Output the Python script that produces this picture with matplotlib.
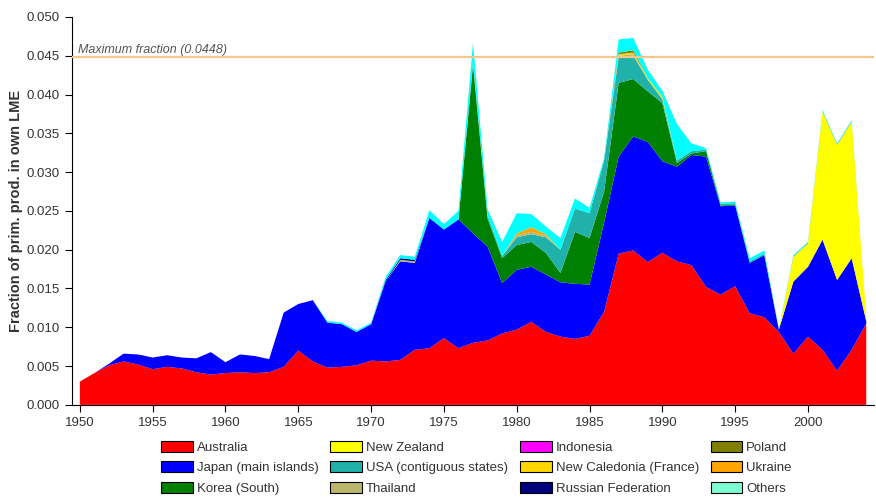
import matplotlib
matplotlib.use("Agg")
import matplotlib.pyplot as plt
from matplotlib.patches import Patch
import numpy as np

plt.rcParams['font.family'] = ['Liberation Sans', 'DejaVu Sans']

years = list(range(1950, 2005))

# fraction of primary production in own LME, per country (stacked bottom to top)
australia = [0.0030, 0.0041, 0.0051, 0.0056, 0.0052, 0.0046, 0.0049, 0.0047, 0.0042, 0.0039,
             0.0041, 0.0042, 0.0041, 0.0042, 0.0049, 0.0070, 0.0056, 0.0048, 0.0049, 0.0051,
             0.0057, 0.0056, 0.0058, 0.0071, 0.0073, 0.0086, 0.0073, 0.0080, 0.0083, 0.0092,
             0.0097, 0.0107, 0.0094, 0.0088, 0.0085, 0.0089, 0.0120, 0.0195, 0.0199, 0.0184,
             0.0196, 0.0185, 0.0180, 0.0152, 0.0142, 0.0153, 0.0118, 0.0113, 0.0094, 0.0066,
             0.0088, 0.0071, 0.0044, 0.0071, 0.0105]
japan = [0.0000, 0.0000, 0.0002, 0.0010, 0.0013, 0.0015, 0.0015, 0.0014, 0.0018, 0.0029,
         0.0014, 0.0023, 0.0022, 0.0017, 0.0070, 0.0060, 0.0079, 0.0058, 0.0055, 0.0043,
         0.0047, 0.0103, 0.0127, 0.0112, 0.0168, 0.0140, 0.0166, 0.0141, 0.0121, 0.0065,
         0.0077, 0.0071, 0.0074, 0.0070, 0.0071, 0.0066, 0.0115, 0.0125, 0.0147, 0.0155,
         0.0118, 0.0122, 0.0142, 0.0168, 0.0114, 0.0104, 0.0065, 0.0080, 0.0003, 0.0093,
         0.0090, 0.0142, 0.0117, 0.0118, 0.0003]
korea = [0.0] * 27 + [0.0217, 0.0036, 0.0032, 0.0032, 0.0032, 0.0028, 0.0012, 0.0067, 0.0060,
                      0.0040, 0.0095, 0.0074, 0.0065, 0.0075, 0.0005, 0.0002, 0.0007, 0.0001,
                      0.0001] + [0.0] * 9
new_zealand = [0.0] * 49 + [0.0032, 0.0030, 0.0165, 0.0174, 0.0176, 0.0006]
usa = [0.0] * 27 + [0.0003, 0.0004, 0.0003, 0.0010, 0.0010, 0.0020, 0.0030, 0.0030, 0.0032,
                    0.0040, 0.0033, 0.0030, 0.0015, 0.0005, 0.0003, 0.0003, 0.0002, 0.0002,
                    0.0002, 0.0002, 0.0002, 0.0000, 0.0001, 0.0001, 0.0001, 0.0001, 0.0001,
                    0.0000]
thailand = [0.0] * 22 + [0.0002, 0.0002] + [0.0] * 6 + [0.0003, 0.0003, 0.0002] + [0.0] * 4 + \
           [0.0002, 0.0002] + [0.0] * 16
indonesia = [0.0] * 55
new_caledonia = [0.0] * 37 + [0.0002, 0.0002, 0.0002, 0.0003] + [0.0] * 14
russia = [0.0] * 21 + [0.0002, 0.0002, 0.0002] + [0.0] * 31
poland = [0.0] * 37 + [0.0002, 0.0003] + [0.0] * 16
ukraine = [0.0] * 30 + [0.0002, 0.0006, 0.0002] + [0.0] * 22
others = [0.0] * 17 + [0.0002, 0.0002, 0.0002, 0.0002, 0.0004, 0.0004, 0.0004, 0.0010, 0.0007,
                       0.0011, 0.0026, 0.0008, 0.0018, 0.0026, 0.0017, 0.0010, 0.0015, 0.0013,
                       0.0007, 0.0003, 0.0017, 0.0016, 0.0011, 0.0008, 0.0047, 0.0010, 0.0002,
                       0.0002, 0.0002, 0.0004, 0.0004, 0.0001, 0.0001, 0.0001, 0.0001, 0.0001,
                       0.0001, 0.0000]

names = ["Australia", "Japan (main islands)", "Korea (South)", "New Zealand",
         "USA (contiguous states)", "Thailand", "Indonesia", "New Caledonia (France)",
         "Russian Federation", "Poland", "Ukraine", "Others"]
colors = ["#ff0000", "#0000ff", "#008000", "#ffff00", "#20b2aa", "#bdb76b", "#ff00ff",
          "#ffd700", "#000080", "#808000", "#ffa500", "#00ffff"]
legend_colors = colors[:-1] + ["#7fffd4"]
series = [australia, japan, korea, new_zealand, usa, thailand, indonesia, new_caledonia,
          russia, poland, ukraine, others]

max_fraction = 0.0448

fig = plt.figure(figsize=(8.76, 4.98), dpi=100)
ax = fig.add_axes([0.082, 0.187, 0.916, 0.779])

ax.stackplot(years, np.array(series), colors=colors, linewidth=0)

ax.axhline(max_fraction, color="#f7c78a", lw=1.6, zorder=5)
ax.text(0.0075, max_fraction + 0.0006, "Maximum fraction (%.4f)" % max_fraction,
        transform=ax.get_yaxis_transform(), fontsize=9, style="italic", color="#555555")

ax.set_xlim(1949.45, 2004.55)
ax.set_ylim(0, 0.05)
ax.set_xticks(range(1950, 2001, 5))
ax.set_yticks(np.arange(0, 0.0501, 0.005))
ax.yaxis.set_major_formatter(matplotlib.ticker.FormatStrFormatter('%.3f'))
ax.tick_params(labelsize=9.5, labelcolor="#333333", length=5, width=0.8)
for s in ["top", "right"]:
    ax.spines[s].set_visible(False)
ax.set_ylabel("Fraction of prim. prod. in own LME", fontsize=10.5, fontweight="bold",
              color="#333333", labelpad=3)

handles = [Patch(facecolor=c, edgecolor="black", linewidth=0.8) for c in legend_colors]
fig.legend(handles, names, ncol=4, loc="upper left", bbox_to_anchor=(0.178, 0.125),
           frameon=False, fontsize=9.5, handlelength=2.4, handleheight=0.9,
           handletextpad=0.3, columnspacing=0.9, labelspacing=0.55, borderaxespad=0,
           labelcolor="#333333")

fig.savefig("out.png", dpi=100)
